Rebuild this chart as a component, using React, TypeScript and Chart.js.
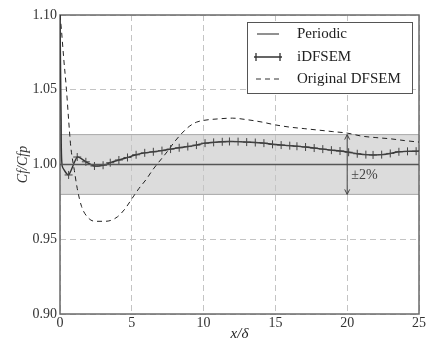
import React, { useEffect, useRef } from "react";
import { Chart, registerables } from "chart.js";

Chart.register(...registerables);

// ---------- data ----------
const periodicX = [0, 25];
const periodicY = [1.0, 1.0];

const idfsemX = [
  0, 0.08, 0.15, 0.6, 1.2, 1.8, 2.4, 3.0, 3.5, 4.1, 4.7, 5.3, 5.9, 6.5, 7.1, 7.7, 8.3, 8.9, 9.5,
  10.1, 10.7, 11.3, 11.8, 12.4, 13.0, 13.6, 14.2, 14.8, 15.4, 16.0, 16.5, 17.1, 17.7, 18.3,
  18.9, 19.5, 20.1, 20.7, 21.3, 21.8, 22.4, 23.0, 23.6, 24.2, 24.8, 25.0,
];
const idfsemY = [
  1.1, 1.03, 0.999, 0.993, 1.005, 1.0018, 0.999, 0.9995, 1.0012, 1.003, 1.0047, 1.0065, 1.0078,
  1.0085, 1.0093, 1.0103, 1.0112, 1.012, 1.013, 1.0143, 1.0148, 1.0152, 1.0154, 1.0153, 1.015,
  1.0147, 1.0143, 1.0135, 1.013, 1.0126, 1.0122, 1.0117, 1.011, 1.0103, 1.0096, 1.009, 1.0082,
  1.0072, 1.0066, 1.0064, 1.0066, 1.0074, 1.0085, 1.0088, 1.0089, 1.009,
];
// markers drawn only on sampled points (not on the inlet spike / final edge point)
const idfsemMarked = idfsemX.map((x, i) => i >= 3 && i < idfsemX.length - 1);

const dfsemX = [
  0, 0.1, 0.25, 0.45, 0.6, 0.75, 1.0, 1.2, 1.5, 2.0, 2.5, 3.0, 3.5, 4.0, 4.5, 5.0, 5.5, 6.0, 6.5,
  7.0, 7.5, 8.0, 8.5, 9.0, 9.5, 10.0, 11.0, 12.0, 13.0, 14.0, 15.0, 16.0, 17.0, 18.0, 19.0, 20.0,
  21.0, 22.0, 23.0, 24.0, 25.0,
];
const dfsemY = [
  1.1, 1.09, 1.072, 1.05, 1.03, 1.012, 0.996, 0.984, 0.972, 0.964, 0.962, 0.962, 0.9625, 0.965,
  0.97, 0.977, 0.984, 0.99, 0.997, 1.003, 1.009, 1.0155, 1.021, 1.0255, 1.0283, 1.0295, 1.0305,
  1.031, 1.03, 1.0285, 1.0265, 1.025, 1.024, 1.023, 1.022, 1.021, 1.019, 1.018, 1.0172, 1.016,
  1.015,
];

const seriesNames = ["Periodic", "iDFSEM", "Original DFSEM"];
const bandLow = 0.98;
const bandHigh = 1.02;
const arrowX = 20;
const arrowLabel = "±2%";
const arrowLabelY = 0.9925;

const xMin = 0, xMax = 25, xStep = 5;
const yMin = 0.9, yMax = 1.1, yStep = 0.05;
const xTitle = "x/δ";
const yTitle = "Cf/Cfp";

const SERIF = "'Liberation Serif', 'DejaVu Serif', serif";

const toPts = (xs: number[], ys: number[]) => xs.map((x, i) => ({ x, y: ys[i] }));

const decorPlugin = {
  id: "decor",
  beforeDraw(chart: any) {
    const { ctx, chartArea: a, scales } = chart;
    const y = scales.y;
    const yT = y.getPixelForValue(bandHigh);
    const yB = y.getPixelForValue(bandLow);
    ctx.save();
    ctx.fillStyle = "#dcdcdc";
    ctx.fillRect(a.left, yT, a.right - a.left, yB - yT);
    ctx.strokeStyle = "#a9a9a9";
    ctx.lineWidth = 1;
    ctx.beginPath();
    ctx.moveTo(a.left, yT);
    ctx.lineTo(a.right, yT);
    ctx.moveTo(a.left, yB);
    ctx.lineTo(a.right, yB);
    ctx.stroke();
    ctx.restore();
  },
  beforeDatasetsDraw(chart: any) {
    const { ctx, chartArea: a } = chart;
    ctx.save();
    ctx.strokeStyle = "#6a6a6a";
    ctx.lineWidth = 1.5;
    ctx.strokeRect(a.left, a.top, a.right - a.left, a.bottom - a.top);
    ctx.restore();
  },
  afterDatasetsDraw(chart: any) {
    const { ctx, scales } = chart;
    const px = scales.x.getPixelForValue(arrowX);
    const yT = scales.y.getPixelForValue(bandHigh);
    const yB = scales.y.getPixelForValue(bandLow);
    ctx.save();
    ctx.strokeStyle = "#444";
    ctx.lineWidth = 1;
    ctx.beginPath();
    ctx.moveTo(px, yT);
    ctx.lineTo(px, yB);
    ctx.moveTo(px - 2.5, yT + 5);
    ctx.lineTo(px, yT);
    ctx.lineTo(px + 2.5, yT + 5);
    ctx.moveTo(px - 2.5, yB - 5);
    ctx.lineTo(px, yB);
    ctx.lineTo(px + 2.5, yB - 5);
    ctx.stroke();
    ctx.fillStyle = "#444";
    ctx.font = `14px ${SERIF}`;
    ctx.textBaseline = "middle";
    ctx.textAlign = "left";
    ctx.fillText(arrowLabel, px + 4, scales.y.getPixelForValue(arrowLabelY));
    ctx.restore();
  },
  afterDraw(chart: any) {
    const { ctx, chartArea: a } = chart;
    const bx = a.right - 172;
    const by = a.top + 7;
    const bw = 165;
    const bh = 71;
    ctx.save();
    ctx.fillStyle = "#fff";
    ctx.fillRect(bx, by, bw, bh);
    ctx.strokeStyle = "#555";
    ctx.lineWidth = 1;
    ctx.strokeRect(bx + 0.5, by + 0.5, bw, bh);
    const rows = [by + 12, by + 35, by + 57];
    const lx0 = bx + 9;
    const lx1 = bx + 33;
    // Periodic
    ctx.strokeStyle = "#555";
    ctx.lineWidth = 1.3;
    ctx.beginPath();
    ctx.moveTo(lx0 + 1, rows[0]);
    ctx.lineTo(lx1 - 1, rows[0]);
    ctx.stroke();
    // iDFSEM
    ctx.strokeStyle = "#333";
    ctx.lineWidth = 1.3;
    ctx.beginPath();
    ctx.moveTo(lx0 - 2, rows[1]);
    ctx.lineTo(lx1 + 2, rows[1]);
    ctx.moveTo(lx0, rows[1] - 4);
    ctx.lineTo(lx0, rows[1] + 4);
    ctx.moveTo(lx1, rows[1] - 4);
    ctx.lineTo(lx1, rows[1] + 4);
    ctx.stroke();
    // dashed
    ctx.strokeStyle = "#333";
    ctx.lineWidth = 1;
    ctx.setLineDash([5, 4]);
    ctx.beginPath();
    ctx.moveTo(lx0, rows[2]);
    ctx.lineTo(lx1, rows[2]);
    ctx.stroke();
    ctx.setLineDash([]);
    ctx.fillStyle = "#222";
    ctx.font = `15px ${SERIF}`;
    ctx.textBaseline = "middle";
    ctx.textAlign = "left";
    seriesNames.forEach((n, i) => ctx.fillText(n, bx + 50, rows[i]));
    ctx.restore();
  },
};

export default function App() {
  const ref = useRef<HTMLCanvasElement | null>(null);
  useEffect(() => {
    document.body.style.margin = "0";
    const canvas = ref.current;
    if (!canvas) return;
    const chart = new Chart(canvas, {
      type: "line",
      data: {
        datasets: [
          {
            label: seriesNames[0],
            data: toPts(periodicX, periodicY),
            borderColor: "#555",
            borderWidth: 1.3,
            pointRadius: 0,
            tension: 0,
          },
          {
            label: seriesNames[1],
            data: toPts(idfsemX, idfsemY),
            borderColor: "#333",
            borderWidth: 1.4,
            pointStyle: "cross",
            pointRadius: idfsemMarked.map((m) => (m ? 4 : 0)),
            pointBorderColor: "#444",
            pointBorderWidth: 1,
            tension: 0.2,
          },
          {
            label: seriesNames[2],
            data: toPts(dfsemX, dfsemY),
            borderColor: "#222",
            borderWidth: 1,
            borderDash: [5, 4],
            pointRadius: 0,
            cubicInterpolationMode: "monotone",
          },
        ],
      },
      options: {
        animation: false,
        responsive: false,
        devicePixelRatio: 1,
        events: [],
        layout: { padding: { top: 15, right: 7, left: 0, bottom: 0 } },
        plugins: { legend: { display: false }, tooltip: { enabled: false } },
        scales: {
          x: {
            type: "linear",
            min: xMin,
            max: xMax,
            afterFit: (s: any) => {
              s.height = 29;
            },
            ticks: {
              stepSize: xStep,
              padding: 1,
              color: "#333",
              font: { family: SERIF, size: 14 },
              maxRotation: 0,
            },
            grid: { color: "#c4c4c4", lineWidth: 1, drawTicks: false },
            border: { display: false, dash: [6, 4] },
            title: {
              display: true,
              text: xTitle,
              color: "#222",
              font: { family: SERIF, size: 15, style: "italic" },
              padding: { top: 0, bottom: 0 },
            },
          },
          y: {
            type: "linear",
            min: yMin,
            max: yMax,
            afterFit: (s: any) => {
              s.width = 60;
            },
            ticks: {
              stepSize: yStep,
              padding: 3,
              color: "#333",
              font: { family: SERIF, size: 14 },
              callback: (v: any) => Number(v).toFixed(2),
            },
            grid: { color: "#c4c4c4", lineWidth: 1, drawTicks: false },
            border: { display: false, dash: [6, 4] },
            title: {
              display: true,
              text: yTitle,
              color: "#333",
              font: { family: SERIF, size: 14, style: "italic" },
              padding: { top: 15, bottom: 0 },
            },
          },
        },
      },
      plugins: [decorPlugin],
    });
    return () => chart.destroy();
  }, []);
  return (
    <div style={{ width: 427, height: 343, position: "relative", background: "#fff" }}>
      <canvas ref={ref} width={427} height={343} style={{ display: "block" }} />
    </div>
  );
}
